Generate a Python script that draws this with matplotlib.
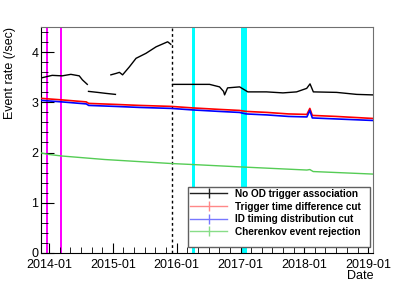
import numpy as np
import matplotlib
matplotlib.use("Agg")
import matplotlib.pyplot as plt
import matplotlib.dates as mdates
from matplotlib.lines import Line2D
from matplotlib.patches import Rectangle
from matplotlib.ticker import MultipleLocator

plt.rcParams['font.family'] = ['Liberation Sans', 'DejaVu Sans']

# ---- data ----
black_a_dates = ['2013-11-18', '2014-01-18', '2014-03-16', '2014-05-05', '2014-06-22', '2014-07-10', '2014-08-07']
black_a_vals = [3.49, 3.54, 3.53, 3.56, 3.53, 3.45, 3.36]
black_b_dates = ['2014-08-14', '2014-10-05', '2014-11-22', '2015-01-15']
black_b_vals = [3.22, 3.20, 3.18, 3.16]
black_c_dates = ['2014-12-20', '2015-01-20', '2015-02-07', '2015-02-25', '2015-04-05', '2015-05-13',
                 '2015-07-09', '2015-09-05', '2015-11-10', '2015-11-28']
black_c_vals = [3.55, 3.58, 3.60, 3.55, 3.71, 3.88, 3.98, 4.11, 4.21, 4.16]
black_d_dates = ['2015-12-08', '2016-03-14', '2016-07-07', '2016-09-02', '2016-09-25', '2016-10-01',
                 '2016-10-18', '2016-12-26', '2017-02-11', '2017-05-29', '2017-08-31', '2017-11-17',
                 '2018-01-14', '2018-02-02', '2018-02-21', '2018-07-04', '2018-10-27', '2019-01-25']
black_d_vals = [3.36, 3.36, 3.36, 3.31, 3.22, 3.15, 3.29, 3.31, 3.21, 3.21, 3.19, 3.21,
                3.28, 3.37, 3.21, 3.20, 3.16, 3.15]

red_dates = ['2013-11-18', '2014-03-15', '2014-08-01', '2014-08-15', '2015-01-15', '2015-06-01',
             '2015-12-01', '2016-04-01', '2016-09-01', '2016-12-25', '2017-02-01', '2017-06-01',
             '2017-10-01', '2018-01-15', '2018-02-01', '2018-02-15', '2018-07-01', '2019-01-25']
red_vals = [3.08, 3.05, 3.01, 2.98, 2.96, 2.94, 2.92, 2.89, 2.86, 2.84, 2.82, 2.80,
            2.77, 2.76, 2.88, 2.74, 2.72, 2.68]
blue_dates = red_dates
blue_vals = [3.04, 3.01, 2.97, 2.94, 2.92, 2.90, 2.88, 2.85, 2.82, 2.80, 2.77, 2.75,
             2.72, 2.71, 2.84, 2.69, 2.67, 2.64]
green_dates = ['2013-11-18', '2014-01-01', '2014-03-15', '2014-11-15', '2015-12-01', '2016-04-01',
               '2017-01-15', '2018-01-15', '2018-02-01', '2018-02-20', '2019-01-25']
green_vals = [1.99, 1.96, 1.93, 1.86, 1.78, 1.76, 1.71, 1.65, 1.66, 1.62, 1.57]

magenta_spans = [('2013-12-12', '2013-12-27'), ('2014-03-05', '2014-03-18')]
cyan_spans = [('2016-03-27', '2016-04-12'), ('2017-01-03', '2017-02-07')]
dashed_date = '2015-12-04'

labels = ['No OD trigger association', 'Trigger time difference cut',
          'ID timing distribution cut', 'Cherenkov event rejection']

def d(lst):
    return np.array(lst, dtype='datetime64[D]')

fig = plt.figure(figsize=(4.15, 2.81), dpi=100)
ax = fig.add_axes([0.0988, 0.1007, 0.8002, 0.8023])

for a, b in magenta_spans:
    ax.axvspan(d([a])[0], d([b])[0], color='#ff00ff', lw=0, zorder=1)
for a, b in cyan_spans:
    ax.axvspan(d([a])[0], d([b])[0], color='#00ffff', lw=0, zorder=1)
ax.axvline(d([dashed_date])[0], color='black', lw=1, ls=(0, (2, 2)), zorder=1)

for ds, vs in [(black_a_dates, black_a_vals), (black_b_dates, black_b_vals),
               (black_c_dates, black_c_vals), (black_d_dates, black_d_vals)]:
    ax.plot(d(ds), vs, color='black', lw=1.0, zorder=3)
ax.plot(d(red_dates), red_vals, color='#ff0000', lw=1.2, zorder=3)
ax.plot(d(blue_dates), blue_vals, color='#0000ff', lw=1.2, zorder=3)
ax.plot(d(green_dates), green_vals, color='#55cc55', lw=1.0, zorder=3)

ax.set_xlim(d(['2013-11-15'])[0], d(['2019-01-29'])[0])
ax.set_ylim(0, 4.5)

ax.xaxis.set_major_locator(mdates.YearLocator())
ax.xaxis.set_major_formatter(mdates.DateFormatter('%Y-%m'))
ax.xaxis.set_minor_locator(mdates.MonthLocator(bymonth=[1, 3, 5, 7, 9, 11]))
ax.yaxis.set_major_locator(MultipleLocator(1))
ax.yaxis.set_minor_locator(MultipleLocator(0.2))
ax.tick_params(axis='both', which='both', direction='in', top=False, right=False, labelsize=9)
ax.tick_params(axis='y', which='major', length=9, pad=2)
ax.tick_params(axis='y', which='minor', length=5)
ax.tick_params(axis='x', which='major', length=7, pad=4.5)
ax.tick_params(axis='x', which='minor', length=4)
for s in ['top', 'right']:
    ax.spines[s].set_color('#707070')

ax.set_ylabel('Event rate (/sec)', loc='top', fontsize=9, labelpad=11)
ax.set_xlabel('Date', loc='right', fontsize=9, labelpad=-0.8)

# legend frame (drawn separately to match the reference box)
ax.add_patch(Rectangle((0.4428, 0.0253), 0.5482, 0.2662, transform=ax.transAxes,
                       facecolor='white', edgecolor='#606060', lw=1.0, zorder=5))
handles = [Line2D([], [], color=c, lw=1.0, marker='|', markersize=7, mew=1.0)
           for c in ['#202020', '#ff8888', '#7777ff', '#88dd88']]
leg = ax.legend(handles, labels, loc='upper left', bbox_to_anchor=(0.4428, 0.2915),
                prop={'weight': 'bold', 'size': 7.2}, frameon=False,
                borderpad=0.2, labelspacing=0.26, handlelength=3.7, handletextpad=0.8,
                borderaxespad=0.0)
leg.set_zorder(6)

fig.savefig('out.png', dpi=100)
